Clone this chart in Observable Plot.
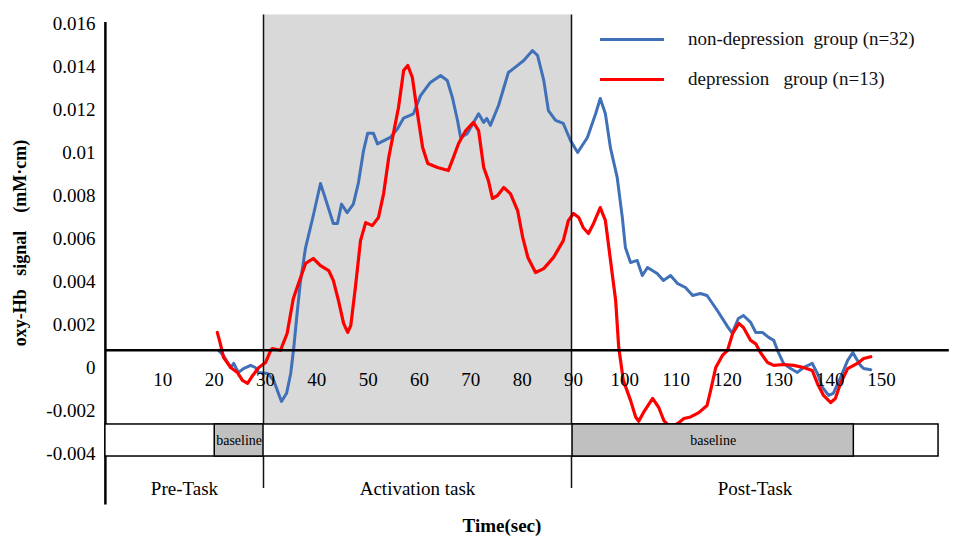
<!DOCTYPE html>
<html>
<head>
<meta charset="utf-8">
<script src="https://cdn.jsdelivr.net/npm/d3@7"></script>
<script src="https://cdn.jsdelivr.net/npm/@observablehq/plot@0.6"></script>
<style>
  body { margin: 0; background: #fff; }
  #wrap { position: relative; width: 957px; height: 543px; font-family: "Liberation Serif", "DejaVu Serif", serif; }
  #wrap svg { position: absolute; left: 0; top: 0; }
  #wrap svg text { font-family: "Liberation Serif", "DejaVu Serif", serif; }
  .lg { position: absolute; font-family: "Liberation Serif", "DejaVu Serif", serif; font-size: 19px; white-space: pre; line-height: 1; color: #111; }
  .lgline { position: absolute; height: 3px; width: 64px; }
  #ytitle { position: absolute; left: 20px; top: 243px; transform: translate(-50%, -50%) rotate(-90deg); font-weight: bold; font-size: 18px; white-space: pre; font-family: "Liberation Serif", serif; }
  #xtitle { position: absolute; left: 502px; top: 526px; transform: translate(-50%, -50%); font-weight: bold; font-size: 19px; font-family: "Liberation Serif", serif; }
</style>
</head>
<body>
<div id="wrap"></div>
<script>
// ---- data ----
const seriesNames = ["non-depression  group (n=32)", "depression   group (n=13)"];
const seriesColors = ["#3f70b8", "#ff0000"];

const timeNonDep = [21.2,22.2,23.6,24.2,25.1,26.1,27.5,28.4,29,30.8,32,32.7,33.5,34.5,35.3,35.9,36.6,37.2,38.2,39.7,41.1,42,43.6,44.4,45.2,46.3,47.5,48.5,49.5,50.3,51.4,52.2,54.7,56.1,57.3,59.2,60.6,62.5,64.5,65.8,66.8,67.8,68.4,69.7,71.9,72.9,73.5,74.2,75.8,77.7,79.5,80.7,82.4,83.4,84.6,85.5,86.9,88.4,89.8,91.2,93.1,94.7,95.6,96.6,97.6,98.9,99.9,100.5,101.5,102.8,103.8,104.8,106.7,107.9,109.3,110.7,112.2,113.6,115.1,116.4,118.4,120.4,121.3,122.5,123.5,124.9,125.9,127.2,128.4,129.4,130.3,131.3,132.7,134,135.2,136.9,137.9,138.9,140.1,141,142.4,143.8,144.8,145.7,146.3,146.9,148.3];
const signalNonDep = [0.0008,0.00056,0,0.00019,-0.00023,-0.00005,0.0001,0,-0.00023,-0.00028,-0.0006,-0.00107,-0.00158,-0.0012,-0.00028,0.00093,0.00265,0.004,0.00558,0.00707,0.00856,0.0079,0.0067,0.0067,0.0076,0.0072,0.0076,0.0086,0.0101,0.0109,0.0109,0.0104,0.0107,0.0111,0.0116,0.0118,0.01265,0.01326,0.01358,0.01335,0.01256,0.01149,0.0107,0.01088,0.0118,0.0114,0.01158,0.01126,0.0122,0.01372,0.01405,0.01428,0.01474,0.01451,0.01335,0.01195,0.01149,0.01135,0.01056,0.01,0.0107,0.0118,0.01251,0.0118,0.0102,0.00884,0.00698,0.00558,0.00488,0.00498,0.00428,0.00465,0.00437,0.00405,0.00428,0.0039,0.00372,0.00335,0.00344,0.00335,0.00265,0.0019,0.0016,0.00228,0.00242,0.0021,0.00163,0.00163,0.0014,0.00126,0.0007,0.00019,-0.00005,-0.00023,0,0.00019,-0.00028,-0.00093,-0.0013,-0.0012,-0.00047,0.00033,0.0007,0.00033,0.0001,-0.00005,-0.0001];

const timeDep = [21,21.6,22.2,23.6,24.9,25.9,26.9,27.9,29.1,30.4,31.4,31.7,33.3,34.6,35.8,36.8,38.2,39.7,41.1,42.7,43.6,44.6,45.6,46.4,47,47.9,48.9,49.9,51.2,52.4,53.4,54.4,55.3,56.3,57.3,58.1,59,60,61,62,63.9,66,67,68,69.4,70.9,71.9,72.9,73.8,74.6,75.6,76.8,78.1,79.5,80.5,81.5,83,84.6,86.5,88.4,89.4,90.4,91.4,92.3,93.3,94.3,95.6,96.6,97.6,98.6,99.2,100.1,101.5,102.5,103.1,104,105.8,107,108,109.3,110.7,111.9,113.2,114.8,116.4,117.1,118.1,119.4,120.4,121.4,122.6,123.5,124.9,125.9,126.8,128.2,129.4,131.3,133.3,135.2,136.9,137.9,139.1,140.5,141.4,142.4,143.8,145.7,146.9,148.3];
const signalDep = [0.00163,0.0011,0.00047,0,-0.00023,-0.0006,-0.00074,-0.00037,0,0.00023,0.0008,0.00088,0.0008,0.00158,0.0032,0.0039,0.00484,0.00507,0.00474,0.00451,0.00405,0.00312,0.00205,0.00163,0.00195,0.00372,0.0059,0.00674,0.0066,0.00698,0.00809,0.00977,0.01088,0.01209,0.01381,0.01405,0.01349,0.0118,0.01023,0.00949,0.0093,0.00916,0.00977,0.01042,0.01102,0.0114,0.01102,0.0093,0.0087,0.00786,0.008,0.00837,0.00809,0.0073,0.00605,0.00512,0.00442,0.0046,0.00512,0.0059,0.00684,0.00716,0.00698,0.0065,0.00623,0.0067,0.00744,0.00684,0.00498,0.00312,0.00093,-0.0006,-0.00153,-0.0023,-0.0025,-0.0021,-0.00144,-0.00186,-0.00247,-0.0028,-0.0026,-0.00237,-0.0023,-0.0021,-0.00177,-0.00107,0,0.00056,0.0008,0.00158,0.00205,0.00186,0.00126,0.0011,0.0007,0.00023,0.0001,0.00014,0.0001,0,-0.00014,-0.00074,-0.0013,-0.00163,-0.00144,-0.00074,-0.00005,0.00019,0.00042,0.0005];

const xTicks = [10,20,30,40,50,60,70,80,90,100,110,120,130,140,150];
const yTicks = [0.016,0.014,0.012,0.01,0.008,0.006,0.004,0.002,0,-0.002,-0.004];
const yTickLabels = ["0.016","0.014","0.012","0.01","0.008","0.006","0.004","0.002","0","-0.002","-0.004"];

const phaseNames = ["Pre-Task", "Activation task", "Post-Task"];
const phaseStart = [-0.8, 30, 90];
const phaseEnd = [30, 90, 161.5];
const baselineStart = [20.5, 90.2];
const baselineEnd = [30, 145];
const taskWindow = [30, 90];

// geometry constants (in data units)
const axisX = -0.8, refLevel = 0.0008, refEnd = 163.6;
const shadeTop = 0.0164, bandTop = -0.00265, bandBottom = -0.00414;
const dividerBottom = -0.00563, axisTop = 0.01605, axisBottom = -0.0064;
const xTickLabelY = -0.00056, phaseLabelY = -0.00567;

// ---- build tables ----
const nonDep = timeNonDep.map((t, i) => ({t, v: signalNonDep[i]}));
const dep = timeDep.map((t, i) => ({t, v: signalDep[i]}));
const phases = phaseNames.map((name, i) => ({name, s: phaseStart[i], e: phaseEnd[i]}));
const baselines = baselineStart.map((s, i) => ({s, e: baselineEnd[i], mid: (s + baselineEnd[i]) / 2}));
const yt = yTicks.map((v, i) => ({v, label: yTickLabels[i]}));

const font = "Liberation Serif";

const chart = Plot.plot({
  width: 957,
  height: 543,
  margin: 0,
  style: {fontFamily: "'Liberation Serif', serif", background: "transparent", overflow: "visible"},
  x: {domain: [30, 90], range: [263, 571], axis: null},
  y: {domain: [-0.004, 0.016], range: [453, 23], axis: null},
  marks: [
    Plot.rect([taskWindow], {x1: d => d[0], x2: d => d[1], y1: bandTop, y2: shadeTop, fill: "#d9d9d9"}),
    Plot.line(nonDep, {x: "t", y: "v", stroke: seriesColors[0], strokeWidth: 3, curve: "linear"}),
    Plot.line(dep, {x: "t", y: "v", stroke: seriesColors[1], strokeWidth: 3.2, curve: "linear"}),
    Plot.ruleX(taskWindow, {y1: dividerBottom, y2: shadeTop, stroke: "#111", strokeWidth: 1.5}),
    Plot.ruleX([axisX], {y1: axisBottom, y2: axisTop, stroke: "#000", strokeWidth: 2.5}),
    Plot.ruleY([refLevel], {x1: axisX, x2: refEnd, stroke: "#000", strokeWidth: 2.5}),
    Plot.rect([0], {x1: axisX, x2: phaseEnd[2], y1: bandBottom, y2: bandTop, fill: "#fff", stroke: "#000", strokeWidth: 1.5}),
    Plot.rect(baselines, {x1: "s", x2: "e", y1: bandBottom, y2: bandTop, fill: "#c0c0c0", stroke: "#000", strokeWidth: 1.5}),
    Plot.text(baselines, {x: "mid", y: (bandTop + bandBottom) / 2, text: () => "baseline", fontSize: 14, fill: "#000", fontFamily: font}),
    Plot.text(phases, {x: d => (d.s + d.e) / 2, y: phaseLabelY, text: "name", fontSize: 19, fill: "#000", fontFamily: font}),
    Plot.text(xTicks, {x: d => d, y: xTickLabelY, text: d => String(d), fontSize: 19, fill: "#000", dx: 2, fontFamily: font}),
    Plot.text(yt, {x: axisX, y: "v", text: "label", fontSize: 19, fill: "#000", textAnchor: "end", dx: -10, fontFamily: font})
  ]
});

const wrap = document.getElementById("wrap");
wrap.appendChild(chart);

// legend
const legendTop = [39, 79];
seriesNames.forEach((name, i) => {
  const ln = document.createElement("div");
  ln.className = "lgline";
  ln.style.left = "600px";
  ln.style.top = (legendTop[i] - 1.5) + "px";
  ln.style.background = seriesColors[i];
  wrap.appendChild(ln);
  const tx = document.createElement("div");
  tx.className = "lg";
  tx.style.left = "688px";
  tx.style.top = (legendTop[i] - 10) + "px";
  tx.textContent = name;
  wrap.appendChild(tx);
});

const yt2 = document.createElement("div");
yt2.id = "ytitle";
yt2.textContent = "oxy-Hb   signal    (mM\u00b7cm)";
wrap.appendChild(yt2);

const xt = document.createElement("div");
xt.id = "xtitle";
xt.textContent = "Time(sec)";
wrap.appendChild(xt);
</script>
</body>
</html>
